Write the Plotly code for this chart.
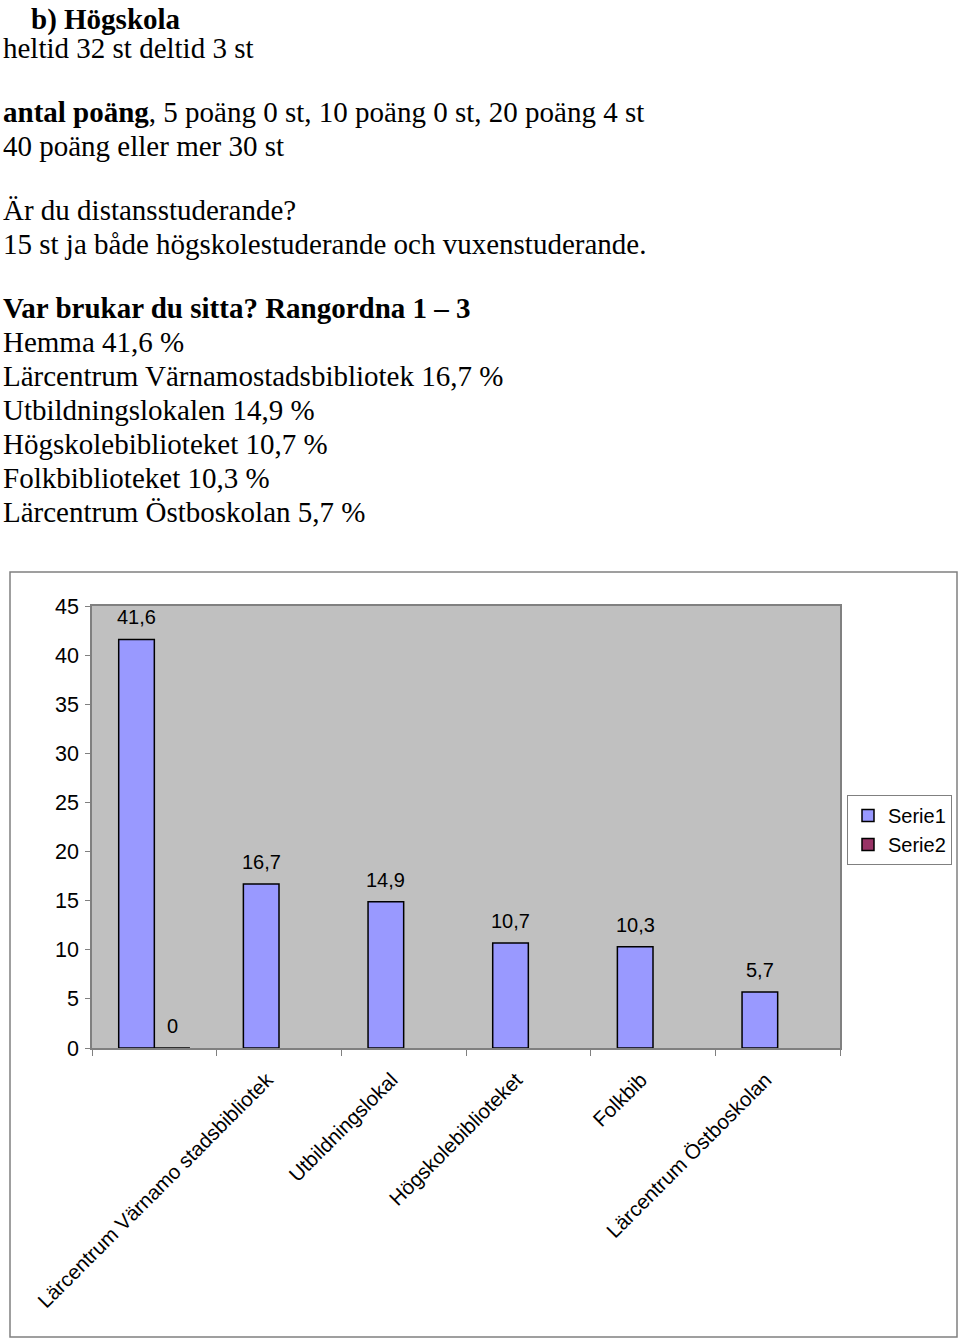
import plotly.graph_objects as go

# ---------------- data ----------------
categories = ["Hemma", "Lärcentrum Värnamo stadsbibliotek", "Utbildningslokalen",
              "Högskolebiblioteket", "Folkbiblioteket", "Lärcentrum Östboskolan"]
tick_labels = ["", "Lärcentrum Värnamo stadsbibliotek", "Utbildningslokal",
               "Högskolebiblioteket", "Folkbib", "Lärcentrum Östboskolan"]
serie1 = [41.6, 16.7, 14.9, 10.7, 10.3, 5.7]
serie2 = [0, None, None, None, None, None]
y_ticks = [0, 5, 10, 15, 20, 25, 30, 35, 40, 45]

text_lines = [
    ("<b>b) Högskola</b>", 19, 30),
    ("heltid 32 st deltid 3 st", 48, 2),
    ("<b>antal poäng</b>, 5 poäng 0 st, 10 poäng 0 st, 20 poäng 4 st", 112, 2),
    ("40 poäng eller mer 30 st", 146, 2),
    ("Är du distansstuderande?", 210, 2),
    ("15 st ja både högskolestuderande och vuxenstuderande.", 244, 2),
    ("<b>Var brukar du sitta? Rangordna 1 – 3</b>", 308, 2),
    ("Hemma 41,6 %", 342, 2),
    ("Lärcentrum Värnamostadsbibliotek 16,7 %", 376, 2),
    ("Utbildningslokalen 14,9 %", 410, 2),
    ("Högskolebiblioteket 10,7 %", 444, 2),
    ("Folkbiblioteket 10,3 %", 478, 2),
    ("Lärcentrum Östboskolan 5,7 %", 512, 2),
]

W, H = 960, 1340
PX0, PX1 = 92, 840
PY0, PY1 = 606, 1048

def fx(px):
    return px / W

def fy(py):
    return 1 - py / H

def fmt(v):
    return ("%g" % v).replace(".", ",")

fig = go.Figure()
fig.add_trace(go.Bar(x=categories, y=serie1, name="Serie1",
                     marker=dict(color="#9999FF", line=dict(color="#000000", width=1.5))))
fig.add_trace(go.Bar(x=categories, y=serie2, name="Serie2",
                     marker=dict(color="#993366", line=dict(color="#000000", width=1.5))))

cat_w = (PX1 - PX0) / len(categories)
bar_w = cat_w / 3.5
annotations = []
for series, sign in ((serie1, -1), (serie2, 1)):
    for c, v in zip(categories, series):
        if v is None:
            continue
        annotations.append(dict(x=c, y=v, xref="x", yref="y", text=fmt(v),
                                showarrow=False, xshift=sign * bar_w / 2, yshift=22,
                                yanchor="middle",
                                font=dict(family="Liberation Sans, Arial", size=20, color="#000")))

for txt, py, px in text_lines:
    annotations.append(dict(x=fx(px), y=fy(py), xref="paper", yref="paper",
                            text=txt, showarrow=False, xanchor="left", yanchor="middle",
                            borderpad=0,
                            font=dict(family="Liberation Serif, Times New Roman", size=29,
                                      color="#000")))

fig.update_layout(
    width=W, height=H,
    margin=dict(l=0, r=0, t=0, b=0, pad=0, autoexpand=False),
    paper_bgcolor="white",
    plot_bgcolor="#C0C0C0",
    barmode="group",
    bargap=1.5 / 3.5,
    bargroupgap=0,
    font=dict(family="Liberation Sans, Arial", size=20, color="#000"),
    xaxis=dict(domain=[PX0 / W, PX1 / W], type="category", automargin=False,
               tickmode="array", tickvals=categories, ticktext=tick_labels,
               tickangle=-45, tickson="boundaries", ticks="outside", ticklen=6,
               tickcolor="#808080", showline=True, linecolor="#808080", linewidth=1.5,
               mirror=True, showgrid=False, tickfont=dict(size=20.5),
               ticklabelshift=-12, ticklabelstandoff=10),
    yaxis=dict(domain=[1 - PY1 / H, 1 - PY0 / H], range=[0, 45], automargin=False,
               tickmode="array", tickvals=y_ticks, ticks="outside", ticklen=5,
               tickcolor="#808080", showline=True, linecolor="#808080", linewidth=1.5,
               mirror=True, showgrid=False, zeroline=False, tickfont=dict(size=21.5),
               ticklabelstandoff=2),
    legend=dict(x=fx(952), y=fy(795), xanchor="right", yanchor="top",
                bgcolor="white", bordercolor="#808080", borderwidth=1,
                font=dict(size=20), itemwidth=30, tracegroupgap=0),
    annotations=annotations,
    shapes=[dict(type="rect", xref="paper", yref="paper",
                 x0=fx(10), x1=fx(957), y0=fy(1337), y1=fy(572),
                 line=dict(color="#808080", width=1.5))],
    showlegend=True,
)

fig.write_html("out.html", config={"displayModeBar": False},
               post_script="document.body.style.margin='0px';")
